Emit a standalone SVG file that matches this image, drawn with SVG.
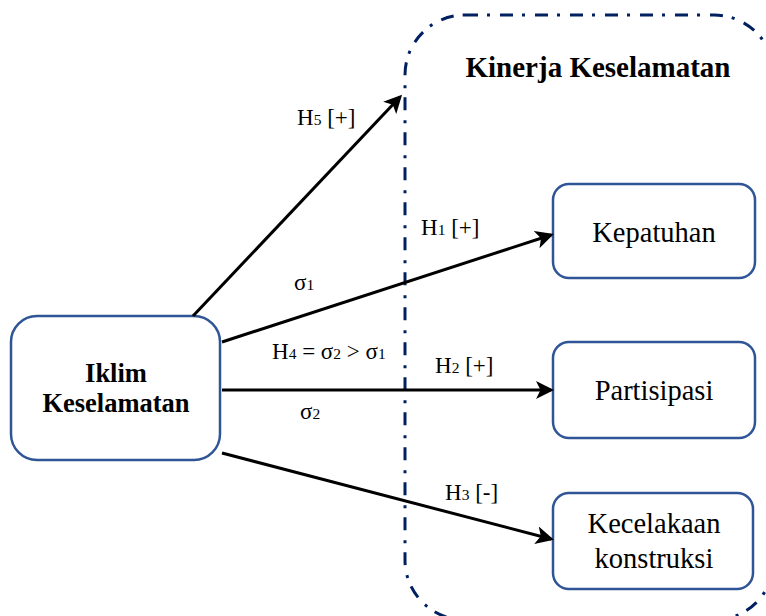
<svg xmlns="http://www.w3.org/2000/svg" width="766" height="616" viewBox="0 0 766 616">
<style>
.node{fill:#fff;stroke:#2F5597;stroke-width:2.5}
.lbl{font-size:23px}
.nt{font-size:28.5px}
.conn{stroke:#000;stroke-width:3;fill:none;marker-end:url(#ah)}
.group{fill:none;stroke:#002060;stroke-width:3;stroke-dasharray:13 9 3 10}
</style>
<defs>
<marker id="ah" markerWidth="6" markerHeight="6" refX="5" refY="3" orient="auto" markerUnits="strokeWidth">
<path d="M0,0 L6,3 L0,6 L1.5,3 Z" fill="#000"/>
</marker>
</defs>
<rect width="766" height="616" fill="#fff"/>
<g font-family="Liberation Serif, DejaVu Serif, serif" fill="#000">
<g id="kinerja">
<rect class="group" x="405" y="15" width="369" height="605" rx="60"/>
<text x="598" y="77" font-size="29" font-weight="bold" text-anchor="middle">Kinerja Keselamatan</text>
</g>
<g id="iklim">
<rect class="node" x="11" y="316" width="209" height="144" rx="26"/>
<text x="116" y="382" font-size="26.5" font-weight="bold" text-anchor="middle">Iklim</text>
<text x="116" y="412" font-size="26.5" font-weight="bold" text-anchor="middle">Keselamatan</text>
</g>
<g id="kepatuhan">
<rect class="node" x="553" y="184" width="202" height="94" rx="16"/>
<text class="nt" x="654" y="242" text-anchor="middle">Kepatuhan</text>
</g>
<g id="partisipasi">
<rect class="node" x="553" y="342" width="202" height="96" rx="16"/>
<text class="nt" x="654" y="400" text-anchor="middle">Partisipasi</text>
</g>
<g id="kecelakaan">
<rect class="node" x="553" y="493" width="200" height="96" rx="16"/>
<text class="nt" x="654" y="533" text-anchor="middle">Kecelakaan</text>
<text class="nt" x="654" y="568" text-anchor="middle">konstruksi</text>
</g>
<g id="connectors">
<line class="conn" x1="193" y1="316" x2="400" y2="97"/>
<line class="conn" x1="222" y1="342" x2="551" y2="235"/>
<line class="conn" x1="222" y1="390" x2="551" y2="390"/>
<line class="conn" x1="222" y1="453" x2="551" y2="539"/>
</g>
<g id="labels">
<text class="lbl" x="297" y="125">H<tspan font-size="15.5">5</tspan> [+]</text>
<text class="lbl" x="421" y="235">H<tspan font-size="15.5">1</tspan> [+]</text>
<text class="lbl" x="294" y="290">σ<tspan font-size="15.5">1</tspan></text>
<text class="lbl" x="272" y="359">H<tspan font-size="15.5">4</tspan> = σ<tspan font-size="15.5">2</tspan> &gt; σ<tspan font-size="15.5">1</tspan></text>
<text class="lbl" x="435" y="373">H<tspan font-size="15.5">2</tspan> [+]</text>
<text class="lbl" x="300" y="419">σ<tspan font-size="15.5">2</tspan></text>
<text class="lbl" x="445" y="500">H<tspan font-size="15.5">3</tspan> [-]</text>
</g>
</g>
</svg>
